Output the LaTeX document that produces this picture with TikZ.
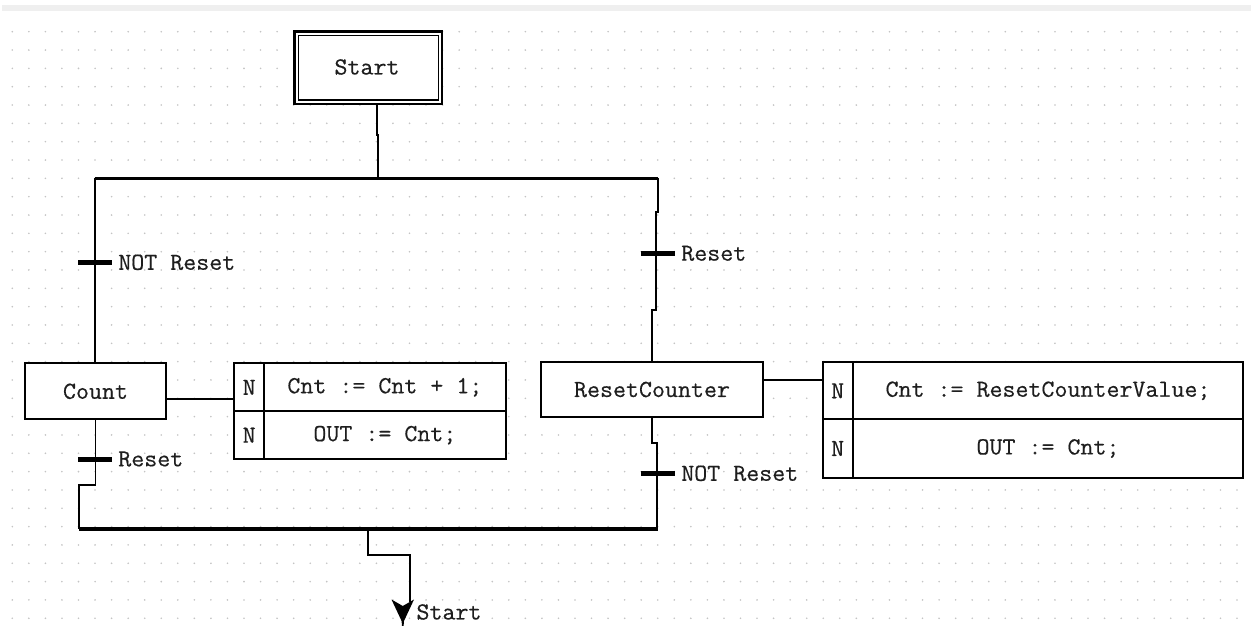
\documentclass[tikz,border=0pt]{standalone}
\usepackage{fontspec}
\newfontfamily\monof[FakeStretch=1.03,FakeBold=0.4]{Latin Modern Mono}
\definecolor{dotc}{RGB}{196,196,196}
\definecolor{bandc}{RGB}{239,239,239}
\definecolor{txtc}{RGB}{30,30,30}
\begin{document}
\begin{tikzpicture}[x=1pt,y=-1pt,
  every node/.style={font=\monof\fontsize{24.5}{27}\selectfont, text=txtc, inner sep=0pt, outer sep=0pt},
  box/.style={draw=black, fill=white, line width=1.8pt, rectangle},
  wire/.style={draw=black, line width=1.7pt},
  bus/.style={draw=black, line width=3.4pt},
  tbar/.style={fill=black, rectangle, minimum width=34pt, minimum height=5pt},
  lbl/.style={anchor=west}]
\useasboundingbox (0,0) rectangle (1251,626);
\fill[white] (0,0) rectangle (1251,626);
\fill[bandc] (2,5.5) rectangle (1251,11.5);
% dot grid
\foreach \i in {0,...,74}{
  \foreach \j in {0,...,32}{
    \fill[dotc] ({12.3+16.55*\i},{31.7+18.33*\j}) circle (0.9);
  }
}
% Start step (initial, double border)
\node[box, line width=2.4pt, minimum width=147.4pt, minimum height=72pt] (start) at (368,67.7) {};
\draw[line width=1.5pt] ([shift={(4.2,4)}]start.north west) rectangle ([shift={(-3.4,-3.8)}]start.south east);
\node at (367,67) {Start};
% coordinates
\coordinate (sj1) at (376.7,135);
\coordinate (sj2) at (378.3,135);
\coordinate (dvS) at (378.3,178.3);
\coordinate (dvL) at (95.3,178.3);
\coordinate (dvR) at (657.7,178.3);
\coordinate (cvL) at (79,529);
\coordinate (cvR) at (657.7,529);
\draw[wire] (start.south -| sj1) -- (sj1) -- (sj2) -- (dvS);
\draw[bus] (dvL) -- (dvR);
\draw[bus] (cvL) -- (cvR);
% steps
\node[box, minimum width=141pt, minimum height=56pt] (count) at (95.5,391.3) {Count};
\node[box, minimum width=221.6pt, minimum height=55.6pt] (rc) at (652,389.5) {ResetCounter};
% action block 1
\node[box, minimum width=29.7pt, minimum height=48pt] (a1n1) at (249.2,387.3) {N};
\node[box, minimum width=241.7pt, minimum height=48pt] (a1t1) at (384.9,387.3) {Cnt := Cnt + 1;};
\node[box, minimum width=29.7pt, minimum height=47.7pt] (a1n2) at (249.2,435.2) {N};
\node[box, minimum width=241.7pt, minimum height=47.7pt] (a1t2) at (384.9,435.2) {OUT := Cnt;};
% action block 2
\node[box, minimum width=30pt, minimum height=57pt] (a2n1) at (837.7,390.8) {N};
\node[box, minimum width=390.6pt, minimum height=57pt] (a2t1) at (1048,390.8) {Cnt := ResetCounterValue;};
\node[box, minimum width=30pt, minimum height=58.4pt] (a2n2) at (837.7,448.5) {N};
\node[box, minimum width=390.6pt, minimum height=58.4pt] (a2t2) at (1048,448.5) {OUT := Cnt;};
% left branch
\draw[wire] (dvL) -- (count.north -| dvL);
\node[tbar] (t1) at (95.3,262.3) {};
\node[lbl] (t1l) at ([xshift=6pt]t1.east) {NOT Reset};
\coordinate (lj1) at (95.5,485);
\coordinate (lj2) at (79,485);
\draw[wire] (count.south -| lj1) -- (lj1) -- (lj2) -- (cvL);
\node[tbar] (t2) at (95.3,459) {};
\node[lbl] (t2l) at ([xshift=6pt]t2.east) {Reset};
\coordinate (ca) at (200,399.3);
\draw[wire] (count.east |- ca) -- (a1n1.west |- ca);
% right branch
\coordinate (rj1) at (657.7,211.7);
\coordinate (rj2) at (656,211.7);
\coordinate (rj3) at (656,310);
\coordinate (rj4) at (651.7,310);
\draw[wire] (dvR) -- (rj1) -- (rj2) -- (rj3) -- (rj4) -- (rc.north -| rj4);
\node[tbar] (t3) at (657.8,253.3) {};
\node[lbl] (t3l) at ([xshift=6.5pt]t3.east) {Reset};
\coordinate (rj5) at (651.7,442.7);
\coordinate (rj6) at (656.7,442.7);
\draw[wire] (rc.south -| rj5) -- (rj5) -- (rj6) -- (rj6 |- cvR);
\node[tbar] (t4) at (657.8,473.3) {};
\node[lbl] (t4l) at ([xshift=6.5pt]t4.east) {NOT Reset};
\coordinate (ra) at (800,380);
\draw[wire] (rc.east |- ra) -- (a2n1.west |- ra);
% exit jump
\coordinate (ej1) at (368.3,529);
\coordinate (ej2) at (368.3,555);
\coordinate (ej3) at (410,555);
\coordinate (ej4) at (410,602);
\draw[wire] (ej1) -- (ej2) -- (ej3) -- (ej4);
\fill[black] (391.5,599.5) -- (402.8,606) -- (414,599.5) -- (404,621) -- (403.6,626) -- (402,626) -- (401.6,621) -- cycle;
\node[lbl] (jmp) at (416.5,612) {Start};
\end{tikzpicture}
\end{document}
